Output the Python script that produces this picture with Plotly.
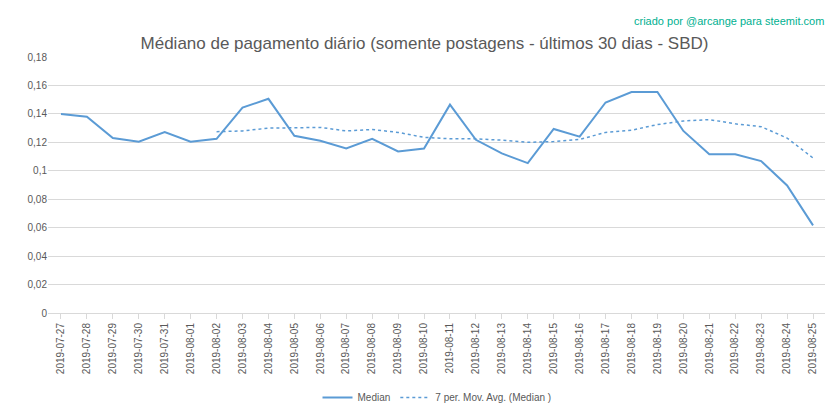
import plotly.graph_objects as go

dates = ["2019-07-27","2019-07-28","2019-07-29","2019-07-30","2019-07-31","2019-08-01","2019-08-02",
         "2019-08-03","2019-08-04","2019-08-05","2019-08-06","2019-08-07","2019-08-08","2019-08-09",
         "2019-08-10","2019-08-11","2019-08-12","2019-08-13","2019-08-14","2019-08-15","2019-08-16",
         "2019-08-17","2019-08-18","2019-08-19","2019-08-20","2019-08-21","2019-08-22","2019-08-23",
         "2019-08-24","2019-08-25"]
median = [0.140,0.138,0.123,0.1205,0.1273,0.1205,0.1225,0.1444,0.1506,0.1246,0.1211,0.1157,0.1225,0.1136,
          0.1157,0.1465,0.1218,0.1122,0.1054,0.1294,0.124,0.148,0.1554,0.1554,0.128,0.1116,0.1116,0.1068,
          0.0897,0.0616]
mov_avg = [None]*6 + [0.1275,0.128,0.130,0.1305,0.1305,0.128,0.129,0.127,0.1235,0.1225,0.1225,0.1215,
                      0.120,0.1205,0.122,0.127,0.1285,0.1325,0.135,0.136,0.133,0.131,0.123,0.109]
yticks = [0,0.02,0.04,0.06,0.08,0.1,0.12,0.14,0.16,0.18]
ylabels = ["0","0,02","0,04","0,06","0,08","0,1","0,12","0,14","0,16","0,18"]

color = "#5b9bd5"
fig = go.Figure()
fig.add_trace(go.Scatter(x=dates, y=median, mode="lines", name="Median",
                         line=dict(color=color, width=2)))
fig.add_trace(go.Scatter(x=dates, y=mov_avg, mode="lines", name="7 per. Mov. Avg. (Median )",
                         line=dict(color=color, width=1.5, dash="dot")))
fig.update_layout(
    width=833, height=416, paper_bgcolor="white", plot_bgcolor="white",
    font=dict(family="Liberation Sans", color="#595959", size=11),
    margin=dict(l=40, r=15, t=49, b=104),
    title=dict(text="Médiano de pagamento diário (somente postagens - últimos 30 dias - SBD)",
               x=0.5, xanchor="center", y=0.915, yanchor="middle", font=dict(size=17, color="#595959")),
    showlegend=True,
    legend=dict(orientation="h", x=0.5, xanchor="center", y=-0.33, yanchor="middle", font=dict(size=10)),
    xaxis=dict(type="category", range=[-0.5, 29.5], tickangle=-90, showgrid=False, showline=True,
               linecolor="#d9d9d9", ticks="outside", tickcolor="#d9d9d9", tickfont=dict(size=10),
               automargin=False),
    yaxis=dict(range=[0,0.18], tickvals=yticks, ticktext=ylabels, showgrid=True, gridcolor="#d9d9d9",
               zeroline=False, tickfont=dict(size=10), automargin=False),
)
fig.add_annotation(text="criado por @arcange para steemit.com", xref="paper", yref="paper",
                   x=1.0, y=1.14, xanchor="right", yanchor="middle", showarrow=False,
                   font=dict(size=11, color="#00b090"))
fig.write_html("out.html")
